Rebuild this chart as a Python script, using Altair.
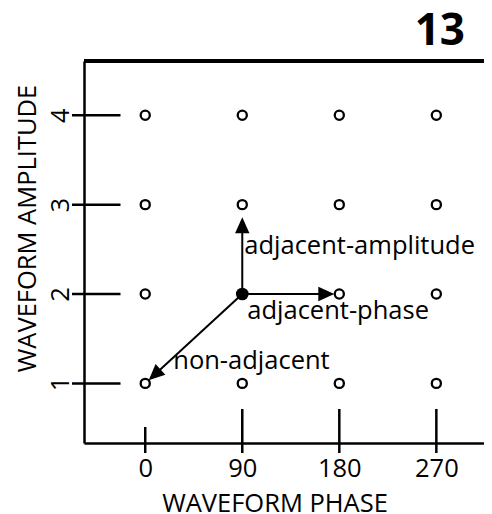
import math
import altair as alt
import pandas as pd

# ---- data ----
PHASES = [0, 90, 180, 270]
AMPLITUDES = [1, 2, 3, 4]
CURRENT_PHASE = 90
CURRENT_AMPLITUDE = 2
TARGET_PHASES = [90, 180, 0]
TARGET_AMPLITUDES = [3, 2, 1]
ANNOTATION_TEXT = ["adjacent-amplitude", "adjacent-phase", "non-adjacent"]
ANNOTATION_PHASE = [90, 90, 0]
ANNOTATION_AMPLITUDE = [2.5, 2, 1]
FIGURE_NUMBER = ["13"]
X_TITLE = "WAVEFORM PHASE"
Y_TITLE = "WAVEFORM AMPLITUDE"

# ---- layout / style ----
W, H = 400, 382
X_DOMAIN = [-56.8, 314.2]
Y_DOMAIN = [0.333, 4.607]
ARROW_GAP = [20.5, 13, 12.7]
ANNOTATION_DX = [2, 5, 28]
ANNOTATION_DY = [4.7, 25, -14]
FONT = "Open Sans"
FS = 25.5
LW = 2.5

kx = W / (X_DOMAIN[1] - X_DOMAIN[0])
ky = H / (Y_DOMAIN[1] - Y_DOMAIN[0])

grid = pd.DataFrame(
    [{"phase": p, "amplitude": a} for a in AMPLITUDES for p in PHASES]
)
grid["current"] = (grid.phase == CURRENT_PHASE) & (grid.amplitude == CURRENT_AMPLITUDE)

rows = []
for tp, ta, gap in zip(TARGET_PHASES, TARGET_AMPLITUDES, ARROW_GAP):
    dxp = (tp - CURRENT_PHASE) * kx
    dyp = -(ta - CURRENT_AMPLITUDE) * ky
    L = math.hypot(dxp, dyp)
    ux, uy = dxp / L, dyp / L
    rows.append({
        "p0": CURRENT_PHASE, "a0": CURRENT_AMPLITUDE,
        "hp": tp - gap * ux / kx, "ha": ta + gap * uy / ky,
        "angle": math.degrees(math.atan2(ux, -uy)) % 360,
    })
arrows = pd.DataFrame(rows)

ann = pd.DataFrame({"text": ANNOTATION_TEXT, "phase": ANNOTATION_PHASE,
                    "amplitude": ANNOTATION_AMPLITUDE})

xs = alt.Scale(domain=X_DOMAIN, nice=False, zero=False)
ys = alt.Scale(domain=Y_DOMAIN, nice=False, zero=False)

X_AX = alt.Axis(values=PHASES, title=X_TITLE, format="d", domain=True,
                domainColor="black", domainWidth=LW, ticks=False, tickSize=0,
                grid=False, labelPadding=33, labelBaseline="alphabetic",
                labelFontSize=FS, labelColor="black", labelFont=FONT,
                labelFlush=False, labelOverlap=False,
                titleFontSize=FS, titleFontWeight="normal", titleColor="black",
                titleFont=FONT, titleX=190.5, titleY=68,
                titleBaseline="alphabetic", titleAlign="center")
Y_AX = alt.Axis(values=AMPLITUDES, title=Y_TITLE, format="d", domain=True,
                domainColor="black", domainWidth=LW, ticks=False, tickSize=0,
                grid=False, labelPadding=16, labelAngle=270, labelAlign="center",
                labelBaseline="alphabetic", labelFontSize=FS, labelColor="black",
                labelFont=FONT, labelFlush=False, labelOverlap=False,
                titleFontSize=FS, titleFontWeight="normal", titleColor="black",
                titleFont=FONT, titleAngle=270, titleX=-49, titleY=167,
                titleBaseline="alphabetic", titleAlign="center")

X = lambda f: alt.X(f, type="quantitative", scale=xs, axis=X_AX)
Y = lambda f: alt.Y(f, type="quantitative", scale=ys, axis=Y_AX)

base_grid = alt.Chart(grid)
ticks_df = pd.DataFrame({"phase": PHASES})

top_line = alt.Chart(grid).mark_rule(color="black", strokeWidth=LW).encode(
    x=alt.value(0), x2=alt.value(W), y=alt.value(0))

y_ticks = alt.Chart(pd.DataFrame({"amplitude": AMPLITUDES})).mark_rule(
    color="black", strokeWidth=LW).encode(
    y=Y("amplitude"), x=alt.value(-12), x2=alt.value(36.5))

x_tick0 = alt.Chart(ticks_df).transform_filter("datum.phase == 0").mark_rule(
    color="black", strokeWidth=LW).encode(
    x=X("phase"), y=alt.value(366), y2=alt.value(392))
x_ticks = alt.Chart(ticks_df).transform_filter("datum.phase != 0").mark_rule(
    color="black", strokeWidth=LW).encode(
    x=X("phase"), y=alt.value(348), y2=alt.value(392))

shafts = alt.Chart(arrows).mark_rule(color="black", strokeWidth=2).encode(
    x=X("p0"), y=Y("a0"), x2="hp", y2="ha")

heads = alt.Chart(arrows).mark_point(
    shape="M0,-1L0.9,1L-0.9,1Z", filled=True, size=256, color="black",
    opacity=1, strokeWidth=0).encode(
    x=X("hp"), y=Y("ha"), angle=alt.Angle("angle:Q", scale=None))

open_pts = base_grid.transform_filter("!datum.current").mark_point(
    shape="circle", filled=False, size=83, strokeWidth=2.3, color="black",
    opacity=1).encode(x=X("phase"), y=Y("amplitude"))

cur_pt = base_grid.transform_filter("datum.current").mark_point(
    shape="circle", filled=True, size=162, color="black", opacity=1,
    strokeWidth=0).encode(x=X("phase"), y=Y("amplitude"))

texts = []
for i, t in enumerate(ANNOTATION_TEXT):
    texts.append(
        alt.Chart(ann).transform_filter(alt.datum.text == t).mark_text(
            align="left", baseline="alphabetic", font=FONT, fontSize=FS,
            color="black", dx=ANNOTATION_DX[i], dy=ANNOTATION_DY[i]).encode(
            x=X("phase"), y=Y("amplitude"), text="text:N"))

fig_label = alt.Chart(pd.DataFrame({"label": FIGURE_NUMBER})).mark_text(
    align="right", baseline="alphabetic", font=FONT, fontSize=44,
    fontWeight="bold", color="black").encode(
    x=alt.value(381), y=alt.value(-16), text="label:N")

chart = alt.layer(open_pts, top_line, y_ticks, x_tick0, x_ticks, shafts, heads,
                  cur_pt, *texts, fig_label).properties(
    width=W, height=H,
    padding={"left": 76, "top": 53, "right": 0, "bottom": 71},
    autosize=alt.AutoSizeParams(type="none"),
).configure_view(stroke=None).configure(background="white")

chart.save("out.html", embed_options={"renderer": "svg", "actions": False})
